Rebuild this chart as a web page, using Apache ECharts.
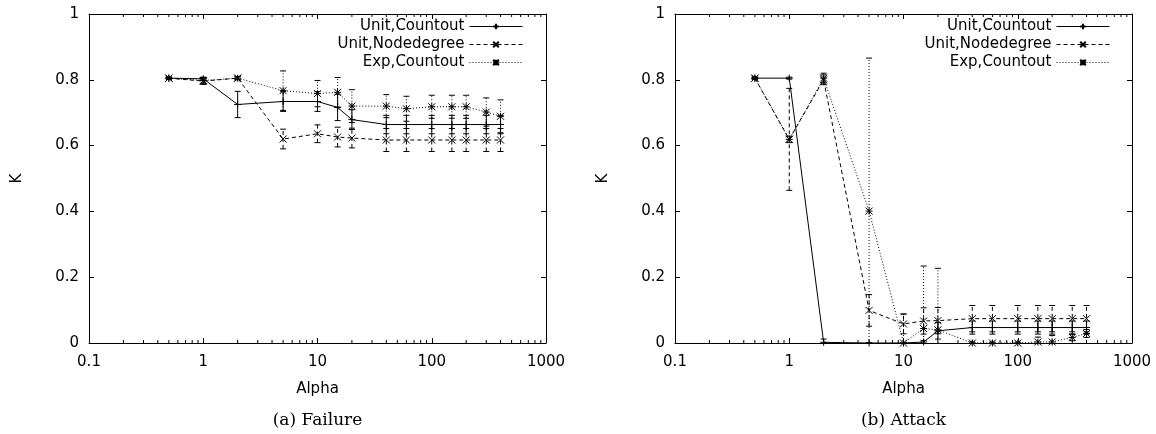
<!DOCTYPE html>
<html>
<head>
<meta charset="utf-8">
<script src="https://cdn.jsdelivr.net/npm/echarts@6/dist/echarts.min.js"></script>
<style>
  html, body { margin: 0; padding: 0; background: #fff; }
  #chart { width: 1156px; height: 434px; }
</style>
</head>
<body>
<div id="chart"></div>
<script>
// x positions (alpha) shared by every curve
var alpha = [0.5, 1, 2, 5, 10, 15, 20, 40, 60, 100, 150, 200, 300, 400];

// axis ticks
var xTicks = [0.1, 1, 10, 100, 1000];
var xMinorTicks = [0.2, 0.3, 0.4, 0.5, 0.6, 0.7, 0.8, 0.9,
                   2, 3, 4, 5, 6, 7, 8, 9,
                   20, 30, 40, 50, 60, 70, 80, 90,
                   200, 300, 400, 500, 600, 700, 800, 900];
var yTicks = [0, 0.2, 0.4, 0.6, 0.8, 1];

var seriesNames = ['Unit,Countout', 'Unit,Nodedegree', 'Exp,Countout'];

// (a) Failure
var failUnitCount    = [0.805, 0.803, 0.725, 0.734, 0.734, 0.716, 0.679, 0.664, 0.664, 0.664, 0.664, 0.664, 0.664, 0.664];
var failUnitCountErr = [0.003, 0.004, 0.040, 0.030, 0.030, 0.040, 0.030, 0.028, 0.028, 0.028, 0.028, 0.028, 0.028, 0.028];
var failUnitNode     = [0.805, 0.796, 0.805, 0.620, 0.636, 0.626, 0.623, 0.617, 0.617, 0.617, 0.617, 0.617, 0.617, 0.617];
var failUnitNodeErr  = [0.003, 0.010, 0.004, 0.030, 0.027, 0.030, 0.030, 0.035, 0.035, 0.035, 0.035, 0.035, 0.035, 0.035];
var failExpCount     = [0.805, 0.798, 0.805, 0.767, 0.758, 0.762, 0.720, 0.720, 0.712, 0.718, 0.718, 0.718, 0.702, 0.689];
var failExpCountErr  = [0.003, 0.010, 0.005, 0.060, 0.040, 0.045, 0.050, 0.035, 0.038, 0.035, 0.035, 0.035, 0.043, 0.050];

// (b) Attack
var atkUnitCount    = [0.805, 0.805, 0.002, 0.000, 0.000, 0.003, 0.037, 0.047, 0.047, 0.047, 0.047, 0.047, 0.047, 0.047];
var atkUnitCountErr = [0.003, 0.003, 0.010, 0.000, 0.000, 0.005, 0.025, 0.020, 0.020, 0.020, 0.020, 0.020, 0.020, 0.020];
var atkUnitNode     = [0.805, 0.619, 0.800, 0.099, 0.058, 0.067, 0.068, 0.074, 0.074, 0.074, 0.074, 0.074, 0.074, 0.074];
var atkUnitNodeErr  = [0.003, 0.155, 0.015, 0.048, 0.030, 0.040, 0.040, 0.040, 0.040, 0.040, 0.040, 0.040, 0.040, 0.040];
var atkExpCount     = [0.805, 0.619, 0.805, 0.401, 0.000, 0.044, 0.040, 0.000, 0.000, 0.000, 0.003, 0.003, 0.017, 0.029];
var atkExpCountErr  = [0.003, 0.010, 0.015, 0.465, 0.088, 0.190, 0.187, 0.003, 0.003, 0.003, 0.015, 0.020, 0.010, 0.012];

var panels = [
  { caption: '(a) Failure', values: [failUnitCount, failUnitNode, failExpCount], errs: [failUnitCountErr, failUnitNodeErr, failExpCountErr] },
  { caption: '(b) Attack',  values: [atkUnitCount, atkUnitNode, atkExpCount],    errs: [atkUnitCountErr, atkUnitNodeErr, atkExpCountErr] }
];

var FONT = 'DejaVu Sans';
var dashes = [null, [4, 3], [1, 2]];               // solid, dashed, dotted
var symbols = [
  'path://M0,5L10,5M5,0L5,10',                     // +
  'path://M0,0L10,10M10,0L0,10',                   // x
  'path://M0,0L10,10M10,0L0,10M0,5L10,5M5,0L5,10'  // *
];

var myChart = echarts.init(document.getElementById('chart'));

var grids = [], xAxes = [], yAxes = [], series = [], legends = [], graphics = [];
var gridLeft = [89, 675];
var legendRight = [633, 46];

function errRender(dash) {
  return function (params, api) {
    var x = api.value(0);
    var p1 = api.coord([x, api.value(1)]);
    var p2 = api.coord([x, api.value(2)]);
    var c = 3;
    var capStyle = { stroke: '#000', lineWidth: 1 };
    return {
      type: 'group',
      children: [
        { type: 'line', shape: { x1: p1[0], y1: p1[1], x2: p2[0], y2: p2[1] }, style: { stroke: '#000', lineWidth: 1, lineDash: dash } },
        { type: 'line', shape: { x1: p1[0] - c, y1: p1[1], x2: p1[0] + c, y2: p1[1] }, style: capStyle },
        { type: 'line', shape: { x1: p2[0] - c, y1: p2[1], x2: p2[0] + c, y2: p2[1] }, style: capStyle }
      ]
    };
  };
}

function minorTickRender(params, api) {
  var v = api.value(0);
  var b = api.coord([v, yTicks[0]]);
  var t = api.coord([v, yTicks[yTicks.length - 1]]);
  var s = { stroke: '#000', lineWidth: 1 };
  return {
    type: 'group',
    children: [
      { type: 'line', shape: { x1: b[0], y1: b[1], x2: b[0], y2: b[1] - 3 }, style: s },
      { type: 'line', shape: { x1: t[0], y1: t[1], x2: t[0], y2: t[1] + 3 }, style: s }
    ]
  };
}

var lineAxis = { show: true, onZero: false, lineStyle: { color: '#000', width: 1 } };
var tickIn = { inside: true, length: 5, lineStyle: { color: '#000' } };

panels.forEach(function (p, g) {
  grids.push({ left: gridLeft[g], top: 14, width: 457, height: 329 });

  // bottom axis with labels
  xAxes.push({
    type: 'log', logBase: 10, gridIndex: g,
    min: xTicks[0], max: xTicks[xTicks.length - 1],
    name: 'Alpha', nameLocation: 'middle', nameGap: 39,
    nameTextStyle: { fontFamily: FONT, fontSize: 15, color: '#000' },
    axisLine: lineAxis, axisTick: tickIn,
    axisLabel: { margin: 12, fontFamily: FONT, fontSize: 15, color: '#000',
      formatter: function (v) { return String(v); } },
    splitLine: { show: false }
  });
  // mirrored top axis
  xAxes.push({
    type: 'log', logBase: 10, gridIndex: g, position: 'top',
    min: xTicks[0], max: xTicks[xTicks.length - 1],
    axisLine: lineAxis, axisTick: tickIn,
    axisLabel: { show: false },
    splitLine: { show: false }
  });

  yAxes.push({
    type: 'value', gridIndex: g,
    min: yTicks[0], max: yTicks[yTicks.length - 1], interval: 0.2,
    name: 'K', nameLocation: 'middle', nameGap: 64,
    nameTextStyle: { fontFamily: FONT, fontSize: 15, color: '#000' },
    axisLine: lineAxis, axisTick: tickIn,
    axisLabel: { margin: 10, fontFamily: FONT, fontSize: 15, color: '#000' },
    splitLine: { show: false }
  });
  yAxes.push({
    type: 'value', gridIndex: g, position: 'right',
    min: yTicks[0], max: yTicks[yTicks.length - 1], interval: 0.2,
    axisLine: lineAxis, axisTick: tickIn,
    axisLabel: { show: false },
    splitLine: { show: false }
  });

  var xi = g * 2, yi = g * 2;

  // minor ticks of the log axis (bottom and top)
  series.push({
    type: 'custom', xAxisIndex: xi, yAxisIndex: yi, silent: true,
    renderItem: minorTickRender,
    data: xMinorTicks.map(function (v) { return [v]; }),
    encode: { x: 0 }, clip: false, z: 5
  });

  for (var k = 0; k < 3; k++) {
    var vals = p.values[k], errs = p.errs[k];
    series.push({
      type: 'custom', name: 'err' + g + k, xAxisIndex: xi, yAxisIndex: yi, silent: true,
      renderItem: errRender(dashes[k]),
      data: alpha.map(function (a, i) { return [a, vals[i] - errs[i], vals[i] + errs[i]]; }),
      encode: { x: 0, y: [1, 2] }, clip: true, z: 2
    });
    series.push({
      type: 'line', name: seriesNames[k], xAxisIndex: xi, yAxisIndex: yi,
      data: alpha.map(function (a, i) { return [a, vals[i]]; }),
      symbol: symbols[k], symbolSize: 7, showSymbol: true,
      lineStyle: { color: '#000', width: 1, type: dashes[k] || 'solid' },
      itemStyle: { color: '#000', borderColor: '#000', borderWidth: 1 },
      emphasis: { disabled: true },
      z: 3
    });
  }

  legends.push({
    data: seriesNames, orient: 'vertical', right: legendRight[g], top: 19,
    align: 'right', itemWidth: 53, itemHeight: 7, itemGap: 3, padding: 0,
    selectedMode: false,
    lineStyle: { width: 1 },
    textStyle: { fontFamily: FONT, fontSize: 15, color: '#000' }
  });

  graphics.push({
    type: 'text', x: gridLeft[g] + 228.5, y: 421,
    style: { text: p.caption, fontFamily: 'DejaVu Serif', fontSize: 17, fill: '#000', align: 'center', verticalAlign: 'middle' }
  });
});

var option = {
  backgroundColor: '#fff',
  animation: false,
  grid: grids,
  xAxis: xAxes,
  yAxis: yAxes,
  legend: legends,
  graphic: graphics,
  series: series
};
myChart.setOption(option);
</script>
</body>
</html>
